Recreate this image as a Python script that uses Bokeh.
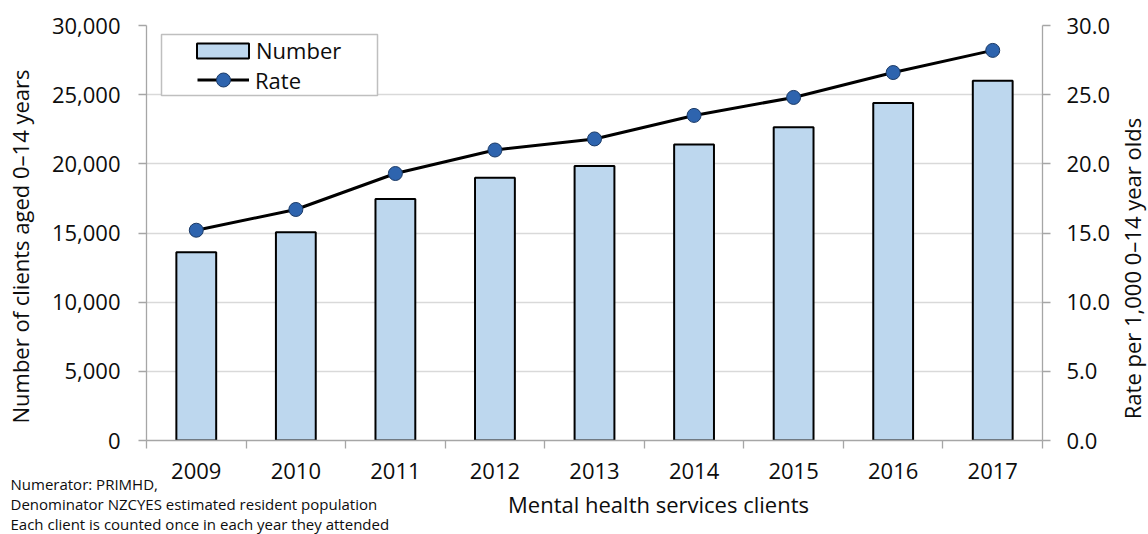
import math
from bokeh.plotting import figure
from bokeh.models import (Range1d, LinearAxis, FixedTicker, NumeralTickFormatter,
                          Legend, LegendItem, Label, BoxAnnotation, GridBox)
from bokeh.embed import file_html
from bokeh.resources import INLINE

# ---- data ----
years = [2009, 2010, 2011, 2012, 2013, 2014, 2015, 2016, 2017]
clients = [13600, 15050, 17450, 19000, 19850, 21400, 22650, 24400, 26000]
rates = [15.2, 16.7, 19.3, 21.0, 21.8, 23.5, 24.8, 26.6, 28.2]
left_ticks = [0, 5000, 10000, 15000, 20000, 25000, 30000]
right_ticks = [0, 5, 10, 15, 20, 25, 30]
series_names = ["Number", "Rate"]
x_title = "Mental health services clients"
left_title = "Number of clients aged 0\u201314 years"
right_title = "Rate per 1,000 0\u201314 year olds"
notes = ["Numerator: PRIMHD,",
         "Denominator NZCYES estimated resident population",
         "Each client is counted once in each year they attended"]

FONT = "Open Sans"
TXT = "#0d0d0d"
AXC = "#A6A6A6"
W, H = 1148, 534

p = figure(width=W, height=H,
           x_range=Range1d(years[0] - 0.5, years[-1] + 0.5),
           y_range=Range1d(left_ticks[0], left_ticks[-1]),
           output_backend="svg", toolbar_location=None,
           min_border_left=146, min_border_right=106,
           min_border_top=25, min_border_bottom=94)
p.extra_y_ranges = {"rate": Range1d(right_ticks[0], right_ticks[-1])}
p.outline_line_color = None
p.background_fill_color = "white"
p.border_fill_color = "white"

# x axis
xa = p.xaxis[0]
xa.ticker = FixedTicker(ticks=years,
                        minor_ticks=[y - 0.5 for y in years] + [years[-1] + 0.5])
xa.major_tick_line_color = None
xa.minor_tick_line_color = AXC
xa.minor_tick_line_width = 1.3
xa.minor_tick_out = 8
xa.minor_tick_in = 0
xa.axis_line_color = AXC
xa.axis_line_width = 1.3
xa.major_label_text_font = FONT
xa.major_label_text_font_size = "22px"
xa.major_label_text_color = TXT
xa.major_label_standoff = 14

# left axis
ya = p.yaxis[0]
ya.ticker = FixedTicker(ticks=left_ticks)
ya.formatter = NumeralTickFormatter(format="0,0")

# right axis
ra = LinearAxis(y_range_name="rate", ticker=FixedTicker(ticks=right_ticks),
                formatter=NumeralTickFormatter(format="0.0"))
p.add_layout(ra, "right")

for ax, so in ((ya, 18), (ra, 16)):
    ax.major_tick_line_color = AXC
    ax.major_tick_line_width = 1.3
    ax.major_tick_out = 8
    ax.major_tick_in = 0
    ax.minor_tick_line_color = None
    ax.axis_line_color = AXC
    ax.axis_line_width = 1.3
    ax.major_label_text_font = FONT
    ax.major_label_text_font_size = "22px"
    ax.major_label_text_color = TXT
    ax.major_label_standoff = so

p.xgrid.grid_line_color = None
p.ygrid.grid_line_color = "#D9D9D9"
p.ygrid.grid_line_width = 1.3

# glyphs
bars = p.vbar(x=years, top=clients, width=0.4, fill_color="#BDD7EE",
              line_color="#000000", line_width=2)
ln = p.line(years, rates, y_range_name="rate", line_color="#000000", line_width=3)
pts = p.scatter(years, rates, y_range_name="rate", size=14, fill_color="#2E64AE",
                line_color="#1B3A66", line_width=1)

# legend frame
box = BoxAnnotation(left=15, right=231, top=406, bottom=345,
                    left_units="screen", right_units="screen",
                    top_units="screen", bottom_units="screen",
                    fill_color="white", fill_alpha=1.0,
                    line_color="#BFBFBF", line_width=1.5, line_alpha=1.0)
p.add_layout(box)

def mk_legend(items, loc, gw, gh, standoff):
    return Legend(items=items, location=loc, orientation="vertical",
                  glyph_width=gw, glyph_height=gh, label_standoff=standoff,
                  label_height=30, spacing=0, padding=0, margin=0,
                  border_line_color=None, background_fill_alpha=0.0,
                  label_text_font=FONT, label_text_font_size="22px",
                  label_text_color=TXT)

lg1 = mk_legend([LegendItem(label=series_names[0], renderers=[bars])], (44, 375), 65, 19, 1)
lg2 = mk_legend([LegendItem(label=series_names[1], renderers=[ln, pts])], (51, 343), 52, 35, 6)
p.add_layout(lg1)
p.add_layout(lg2)

# ---- transparent text layer over the chart (titles and notes) ----
ov = figure(width=W, height=H, x_range=Range1d(0, W), y_range=Range1d(0, H),
            x_axis_type=None, y_axis_type=None,
            output_backend="svg", toolbar_location=None, min_border=0,
            min_border_left=0, min_border_right=0, min_border_top=0, min_border_bottom=0)
ov.outline_line_color = None
ov.background_fill_alpha = 0.0
ov.border_fill_alpha = 0.0
for fig in (ov, p):
    try:
        fig.frame_align = False
    except Exception:
        pass

def txt(x, y, text, size, angle=0.0, align="left"):
    ov.add_layout(Label(x=x, y=y, x_units="screen", y_units="screen", text=text,
                        angle=angle, text_align=align, text_baseline="alphabetic",
                        text_font=FONT, text_font_size=size, text_color=TXT))

txt(19, H - 246, left_title, "22px", math.pi / 2, "center")
txt(1131, H - 268, right_title, "22px", math.pi / 2, "center")
txt(658, H - 503, x_title, "22px", 0.0, "center")
for i, t in enumerate(notes):
    txt(10, H - 483 - 20 * i, t, "15px")

layout = GridBox(children=[(p, 0, 0), (ov, 0, 0)])
open("out.html", "w").write(file_html(layout, INLINE))
